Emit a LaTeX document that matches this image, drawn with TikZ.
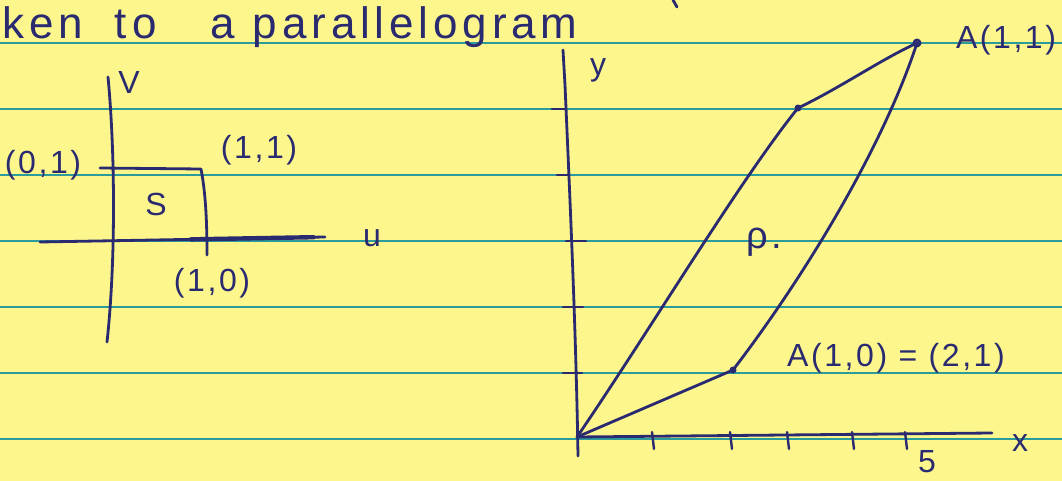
\documentclass[tikz,border=0pt]{standalone}
\usepackage{fontspec}
\setmainfont{Liberation Sans}
\newfontfamily\handfont[LetterSpace=8]{Liberation Sans}
\newfontfamily\titlefont[LetterSpace=11]{Liberation Sans}
\usetikzlibrary{positioning,calc}
\definecolor{paper}{RGB}{252,246,140}
\definecolor{rulecol}{RGB}{46,155,155}
\definecolor{ink}{RGB}{42,42,112}
\tikzset{INK/.style={draw=ink, line width=1.4pt, line cap=round, line join=round}}
\tikzset{TICK/.style={draw=ink, line width=1.2pt, line cap=round}}
\tikzset{RULE/.style={draw=rulecol, line width=1pt}}
\tikzset{HAND/.style={text=ink, inner sep=0pt, font=\handfont\fontsize{16}{16}\selectfont}}

\begin{document}
\begin{tikzpicture}[x=0.5pt, y=-0.5pt]
    \fill[paper] (0,0) rectangle (1062,481);
    \useasboundingbox (0,0) rectangle (1062,481);
    \foreach \y in {43,109,...,439}
        \draw[RULE] (0,\y) -- (1062,\y);

    % heading line
    \node[HAND, anchor=base west, font=\titlefont\fontsize{22}{22}\selectfont] (n_title) at (2,39)
        {ken\hspace{16pt}to\hspace{27pt}a\hspace{9pt}parallelogram};
    \draw[INK] (673,0) -- (677,7);

    % square S in the uv-plane
    \coordinate (v_top) at (108,77);
    \coordinate (v_bot) at (107,342);
    \coordinate (u_left) at (40,242);
    \coordinate (u_right) at (325,237);
    \coordinate (s_01) at (100,168);
    \coordinate (s_11) at (201,169);
    \coordinate (s_10) at (207,255);
    \draw[INK] (v_top) .. controls (115,150) and (116,260) .. (v_bot);
    \draw[INK] (u_left) -- (u_right);
    \draw[INK, line width=2.2pt] ($(u_left)!0.53!(u_right)$) -- ($(u_left)!0.96!(u_right)$);
    \draw[INK] (s_01) -- (s_11) .. controls (205,190) and (207,215) .. (s_10);

    \node[HAND] (n_v) at (129,82) {V};
    \node[HAND] (n_u) at (372,238) {u};
    \node[HAND] (n_S) at (156,204) {S};
    \node[HAND] (n_s11) at (259,150) {(1,1)};
    \node[HAND] (n_s01) at (43,165) {(0,1)};
    \node[HAND] (n_s10) at (212,283) {(1,0)};

    % parallelogram P in the xy-plane
    \coordinate (c_O) at (577,437);
    \coordinate (c_B) at (733,370);
    \coordinate (c_C) at (917,43);
    \coordinate (c_D) at (798,108);
    \coordinate (y_top) at (563,50);
    \coordinate (y_bot) at (578,456);
    \coordinate (x_right) at (992,433);
    \draw[INK] (y_top) -- (565,85) .. controls (570,200) and (576,330) .. (y_bot);
    \draw[INK] (c_O) -- (x_right);
    \foreach \y/\xa/\xb in {109/552/566, 175/557/568, 241/566/586, 307/563/583, 373/563/582}
        \draw[TICK] (\xa,\y) -- (\xb,\y);
    \foreach \x in {652,730,787,852,905}
        \draw[TICK] (\x,432) -- (\x+2,449);

    \draw[INK] (c_O) -- (c_B);
    \draw[INK] (c_B) .. controls (802,280) and (882,150) .. (c_C);
    \draw[INK] (c_O) .. controls (650,330) and (740,180) .. (c_D);
    \draw[INK] (c_D) .. controls (840,88) and (880,60) .. (c_C);
    \fill[ink] (c_B) circle (3.5);
    \fill[ink] (c_D) circle (3.5);
    \draw[INK] (c_C) circle (3);

    \node[HAND] (n_y) at (598,70) {y};
    \node[HAND] (n_x) at (1020,443) {x};
    \node[HAND] (n_five) at (927,462) {5};
    \node[HAND, font=\handfont\fontsize{19}{19}\selectfont] (n_P) at (764,242) {ρ.};
    \node[HAND] (n_AC) at (1006,40) {A(1,1)};
    \node[HAND] (n_AB) at (896,358) {A(1,0) = (2,1)};
\end{tikzpicture}
\end{document}
